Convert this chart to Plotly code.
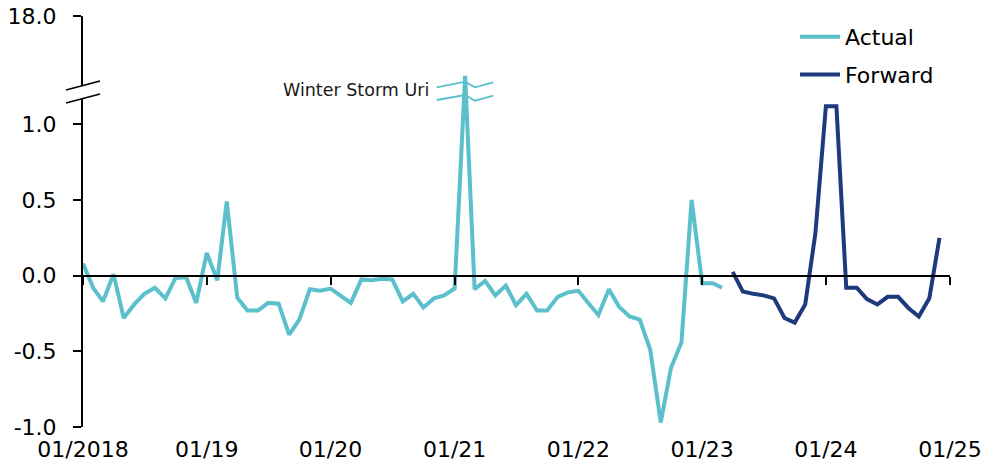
import pandas as pd
import plotly.graph_objects as go

# ---------------- data ----------------
actual_start = "2018-01-01"
actual_values = [
    0.08, -0.085, -0.17, 0.01, -0.28, -0.19, -0.12, -0.08, -0.15, -0.015, -0.01, -0.18,   # 2018
    0.15, -0.03, 0.49, -0.145, -0.23, -0.23, -0.18, -0.185, -0.39, -0.29, -0.09, -0.10,   # 2019
    -0.085, -0.135, -0.18, -0.025, -0.03, -0.02, -0.025, -0.17, -0.12, -0.21, -0.15, -0.13,  # 2020
    -0.085, 1.32, -0.09, -0.035, -0.13, -0.065, -0.195, -0.12, -0.23, -0.23, -0.14, -0.11,  # 2021 (Feb: Uri, truncated at axis break)
    -0.10, -0.185, -0.26, -0.09, -0.205, -0.27, -0.29, -0.49, -0.97, -0.61, -0.44, 0.50,   # 2022
    -0.05, -0.05, -0.08,                                                                    # 2023
]
forward_start = "2023-04-01"
forward_values = [
    0.025, -0.105, -0.12, -0.13, -0.15, -0.28, -0.31, -0.19, 0.28,                          # 2023
    1.12, 1.12, -0.08, -0.08, -0.155, -0.19, -0.14, -0.14, -0.215, -0.27, -0.15, 0.25,      # 2024
]
x_tick_dates = ["2018-01-01", "2019-01-01", "2020-01-01", "2021-01-01",
                "2022-01-01", "2023-01-01", "2024-01-01", "2025-01-01"]
x_tick_labels = ["01/2018", "01/19", "01/20", "01/21", "01/22", "01/23", "01/24", "01/25"]
y_tick_values = [-1.0, -0.5, 0.0, 0.5, 1.0]
y_tick_labels = ["-1.0", "-0.5", "0.0", "0.5", "1.0"]
y_top_label = "18.0"
annotation_text = "Winter Storm Uri"

# ---------------- styling ----------------
FONT = "DejaVu Sans"
TEAL = "#5BBFCC"
NAVY = "#1F3A7C"
W, H = 989, 467
M_L, M_R, M_T, M_B = 83, 39, 16, 40
Y_MIN, Y_TOP = -1.0, 1.716  # top of the (broken) axis, labelled 18.0

actual_dates = pd.date_range(actual_start, periods=len(actual_values), freq="MS")
forward_dates = pd.date_range(forward_start, periods=len(forward_values), freq="MS")

plot_w = W - M_L - M_R
plot_h = H - M_T - M_B


def px_x(px):
    return (px - M_L) / plot_w


def px_y(py):
    return (H - M_B - py) / plot_h


fig = go.Figure()
fig.add_trace(go.Scatter(x=actual_dates, y=actual_values, mode="lines", name="Actual",
                         line=dict(color=TEAL, width=4), legendgroup="a"))
fig.add_trace(go.Scatter(x=forward_dates, y=forward_values, mode="lines", name="Forward",
                         line=dict(color=NAVY, width=4), legendgroup="f"))
# carrier trace for the zero-line axis with year ticks
fig.add_trace(go.Scatter(x=[actual_dates[0]], y=[0], xaxis="x2", mode="none",
                         showlegend=False, hoverinfo="skip"))

zero_pos = (0 - Y_MIN) / (Y_TOP - Y_MIN)

fig.update_layout(
    width=W, height=H,
    margin=dict(l=M_L, r=M_R, t=M_T, b=M_B, autoexpand=False),
    paper_bgcolor="white", plot_bgcolor="white",
    font=dict(family=FONT, size=22, color="#000000"),
    showlegend=True,
    legend=dict(x=px_x(795), y=1.0, xanchor="left", yanchor="top",
                bgcolor="rgba(0,0,0,0)", font=dict(size=22, family=FONT),
                tracegroupgap=6, itemwidth=40),
    xaxis=dict(type="date", range=[x_tick_dates[0], x_tick_dates[-1]],
               tickmode="array", tickvals=x_tick_dates, ticktext=x_tick_labels,
               showgrid=False, zeroline=False, showline=False, ticks="",
               automargin=False, ticklabelstandoff=7,
               tickfont=dict(size=22, family=FONT)),
    xaxis2=dict(type="date", overlaying="x", anchor="free", position=zero_pos,
                range=[x_tick_dates[0], x_tick_dates[-1]], automargin=False,
                tickmode="array", tickvals=x_tick_dates, showticklabels=False,
                showgrid=False, zeroline=False, showline=True, linecolor="black",
                linewidth=2, ticks="outside", ticklen=8, tickwidth=2, tickcolor="black"),
    yaxis=dict(range=[Y_MIN, Y_TOP], tickmode="array", automargin=False,
               tickvals=y_tick_values + [Y_TOP], ticktext=y_tick_labels + [y_top_label],
               showgrid=False, zeroline=False, showline=True, linecolor="black",
               linewidth=2, ticks="outside", ticklen=8, tickwidth=2, tickcolor="black",
               ticklabelstandoff=12, tickfont=dict(size=22, family=FONT)),
)

shapes = []
# axis break on the y axis: white gap + two slanted strokes
shapes.append(dict(type="rect", xref="paper", yref="paper",
                   x0=px_x(79), x1=px_x(87), y0=px_y(99), y1=px_y(85.5),
                   fillcolor="white", line=dict(width=0), layer="above"))
for (xa, ya, xb, yb) in [(66, 90, 100, 81), (66, 103, 100, 94)]:
    shapes.append(dict(type="line", xref="paper", yref="paper",
                       x0=px_x(xa), y0=px_y(ya), x1=px_x(xb), y1=px_y(yb),
                       line=dict(color="black", width=1.8), layer="above"))
# break marks on the Winter Storm Uri spike
for pts in [[(436.7, 87.3), (465, 81.7), (475, 87.3), (493.3, 82.3)],
            [(436.7, 100), (465, 95), (475, 100.7), (493.3, 95.7)]]:
    path = "M " + " L ".join(f"{px_x(a):.5f},{px_y(b):.5f}" for a, b in pts)
    shapes.append(dict(type="path", xref="paper", yref="paper", path=path,
                       line=dict(color=TEAL, width=1.8), layer="above"))
fig.update_layout(shapes=shapes)

fig.add_annotation(text=annotation_text, xref="paper", yref="paper",
                   x=px_x(431), y=px_y(90.5), xanchor="right", yanchor="middle",
                   showarrow=False, font=dict(size=17.5, family=FONT, color="#1a1a1a"))

fig.write_html("out.html", config={"displayModeBar": False},
               post_script="document.body.style.margin='0';document.body.style.overflow='hidden';")
